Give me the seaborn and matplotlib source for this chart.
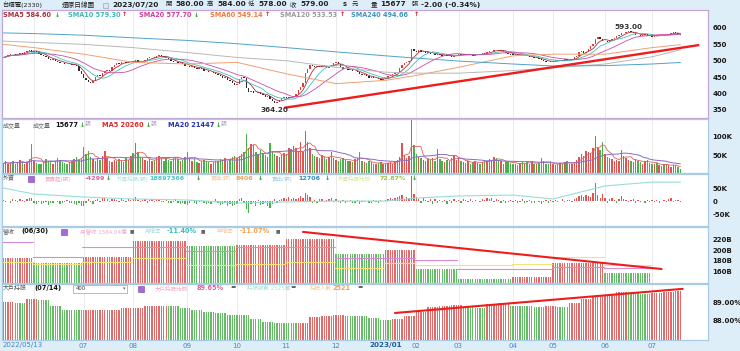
import matplotlib.pyplot as plt
from matplotlib.patches import Rectangle
import pandas as pd
import numpy as np
import seaborn as sns

sns.set_theme(style='white')
plt.rcParams['font.family'] = ['DejaVu Sans', 'Noto Sans CJK TC']

# 月份標籤 (每月交易日由下面的收盤價清單長度決定)
month_labels = ['2022/05/13', '', '07', '08', '09', '10', '11', '12',
                '2023/01', '02', '03', '04', '05', '06', '07']

# 收盤價 (還原), 每月一組
close_m = [
    [510, 513, 518, 522, 520, 516, 519, 525, 522, 527, 531, 533, 528],
    [530, 527, 522, 518, 514, 510, 506, 503, 505, 500, 497, 494, 493, 491, 489, 490, 487, 488, 484, 470, 458],
    [447, 440, 435, 432, 438, 450, 455, 452, 462, 468, 472, 470, 480, 488, 492, 490, 495, 497, 494, 498, 500],
    [498, 501, 496, 495, 500, 503, 508, 510, 512, 509, 513, 517, 515, 512, 508, 505, 498, 495, 497, 494, 496, 490, 485],
    [483, 480, 484, 479, 476, 478, 475, 470, 468, 465, 466, 462, 460, 456, 452, 448, 450, 442, 438, 432, 427],
    [430, 443, 450, 446, 418, 405, 408, 402, 400, 404, 398, 395, 390, 392, 384, 378, 370, 374, 380, 386, 388],
    [386, 390, 388, 392, 398, 410, 420, 432, 462, 475, 486, 483, 480, 485, 482, 486, 483, 479, 484, 488, 494],
    [497, 490, 482, 476, 478, 472, 474, 468, 470, 465, 460, 456, 458, 452, 448, 450, 446, 448, 443, 440, 445],
    [448, 452, 455, 460, 462, 465, 478, 487, 492, 497, 500, 535, 530],
    [528, 532, 527, 530, 524, 526, 520, 522, 518, 521, 517, 515, 519, 514, 516, 512, 515, 518],
    [520, 517, 521, 518, 522, 519, 515, 518, 522, 520, 524, 520, 526, 529, 531, 534, 532, 530, 533, 528, 525, 522, 519],
    [518, 520, 516, 519, 515, 517, 513, 510, 512, 507, 509, 505, 503, 500, 497, 495, 498],
    [500, 503, 499, 502, 500, 504, 501, 503, 506, 510, 514, 527, 530, 525, 528, 536, 545, 550, 565, 572, 566, 560],
    [561, 558, 563, 566, 570, 575, 580, 584, 586, 588, 590, 588, 585, 580, 578, 576, 579, 581, 577, 575],
    [574, 577, 576, 579, 578, 576, 580, 583, 586, 588, 584, 581, 579],
]

# 成交量 (千張)
vol_m = [
    [30, 36, 28, 32, 38, 30, 34, 40, 33, 29, 35, 42, 82],
    [38, 32, 28, 30, 35, 42, 37, 34, 30, 36, 45, 40, 33, 31, 28, 35, 38, 42, 48, 40, 45],
    [74, 55, 63, 48, 42, 38, 45, 40, 50, 63, 45, 38, 35, 40, 36, 42, 38, 33, 45, 40, 50],
    [58, 84, 60, 48, 45, 40, 38, 42, 36, 40, 46, 50, 42, 38, 45, 40, 37, 44, 48, 42, 36, 40, 46],
    [60, 45, 38, 42, 35, 32, 36, 40, 38, 34, 30, 33, 36, 38, 42, 40, 45, 38, 42, 48, 50],
    [45, 50, 55, 60, 108, 70, 82, 78, 60, 55, 65, 58, 52, 48, 84, 62, 55, 50, 48, 52, 58],
    [55, 72, 68, 75, 70, 62, 87, 60, 116, 87, 70, 55, 50, 48, 45, 52, 46, 42, 48, 60, 44],
    [40, 38, 42, 45, 40, 36, 38, 34, 42, 45, 60, 38, 35, 32, 36, 33, 30, 28, 32, 35, 30],
    [28, 32, 35, 30, 36, 40, 48, 84, 52, 45, 50, 145, 79],
    [55, 48, 45, 40, 38, 42, 40, 45, 38, 68, 42, 38, 35, 40, 38, 45, 53, 40],
    [45, 38, 35, 32, 36, 30, 34, 38, 32, 28, 35, 40, 36, 42, 38, 47, 44, 40, 36, 30, 34, 38, 32],
    [30, 28, 26, 32, 35, 30, 34, 28, 36, 30, 28, 32, 45, 38, 30, 28, 32],
    [30, 26, 28, 32, 30, 34, 36, 30, 28, 35, 40, 47, 55, 50, 62, 60, 58, 70, 103, 72, 65, 87],
    [55, 48, 45, 42, 38, 40, 36, 66, 50, 45, 40, 38, 35, 42, 38, 34, 30, 36, 40, 32],
    [30, 28, 32, 26, 24, 28, 30, 26, 22, 25, 27, 20, 15.677],
]

# 外資買賣超 (千張)
foreign_m = [
    [3, -5, 2, -8, 6, 4, -3, 8, 5, -2, 7, 10, 12],
    [-6, -10, -4, -12, -8, -3, -15, -9, -6, 2, -5, -11, -7, -4, 3, -8, -6, -13, -16, -9, -20],
    [-18, -8, 6, -4, -10, 5, 8, -3, 12, 10, 6, -2, 9, 7, 4, -5, 6, 3, -4, 8, 5],
    [6, 15, 4, -3, 5, 8, -6, 3, 7, -4, 5, 9, -2, -5, 4, -7, -9, -3, 6, -8, -10, -6, -12],
    [-14, -9, 4, -6, -11, -5, 3, -8, -10, -7, -12, -4, 6, -9, -15, -11, -6, -18, -13, -20, -16],
    [-10, 8, 12, -6, -30, -45, -12, -8, -20, 5, -15, -10, -6, -18, -25, -12, 6, -8, 4, 7, 10],
    [9, 14, 6, 11, 8, 12, 18, 10, 30, 22, 15, -6, 5, -8, 9, 6, -5, 4, 8, 12, -4],
    [6, -5, -9, 4, -7, -3, 5, -8, -6, 3, -12, -5, -4, 2, -9, -6, 3, -5, -8, 4, 2],
    [5, 8, 12, 6, 10, 15, 18, 25, 9, 14, 12, 95, 28],
    [15, 8, -6, 10, 4, -5, 9, -12, 6, -8, 3, -4, 5, -10, 4, -6, 8, -3],
    [4, -6, 8, 3, -5, 6, -3, 5, 2, -4, 7, 3, 10, 6, 12, -4, 8, 5, -6, 3, -8, -5, 4],
    [-5, 3, -7, -4, 6, -9, -3, 4, -6, -8, 2, -5, -10, -4, 3, -6, 5],
    [-3, 4, -5, 2, 6, -4, 3, 5, -2, 8, 12, 20, 25, 15, 22, 18, 14, 30, 70, 24, 12, 28],
    [10, -8, 6, 12, 5, -6, 9, 20, 8, 4, -5, 3, 6, -7, 4, -3, 2, -6, 5, -4],
    [3, -5, 4, -6, 2, 5, -3, 6, 10, -4, 3, 4, -4.299],
]

# 月初取樣的長均線與外資持股比例 (每月月初 + 最後一日)
ma60_s = [550, 540, 520, 495, 490, 495, 460, 430, 440, 455, 480, 515, 520, 520, 540, 549.14]
ma120_s = [560, 556, 550, 540, 525, 510, 500, 480, 465, 462, 462, 470, 478, 490, 512, 533.53]
ma240_s = [585, 583, 578, 570, 562, 552, 540, 527, 515, 508, 499, 490, 484, 485, 490, 494.66]
fratio_s = [72.42, 71.96, 71.73, 71.58, 71.50, 71.27, 71.35, 71.42, 71.42, 71.65, 71.81, 71.88, 71.58, 72.58, 72.88, 72.87]

# 月營收 (十億), 2022/04 ~ 2023/06
revenue = [172.6, 185.7, 175.9, 186.8, 218.1, 208.2, 210.3, 222.7, 192.6, 200.1, 163.2, 145.4, 147.9, 176.5, 156.4]
rev_pink = [216, 187, 206, 206, 199, 206, 206, 185, 185, 181, 164, 164, 168, 166]
rev_yellow = [177, 174, 177, 185, 171, 173, 177, 165, 175, 172, 172, 174, 187, 171]

# 大戶持股比例 (每週)
holder_week = [89.07, 89.00, 89.20, 89.15, 88.85, 88.60, 88.60, 88.62, 88.62, 88.62, 88.70, 88.70,
               88.85, 88.85, 88.83, 88.70, 88.60, 88.50, 88.45, 88.33, 88.33, 88.10, 87.96, 87.87,
               87.87, 87.90, 88.20, 88.30, 88.35, 88.25, 88.25, 88.15, 88.07, 88.08, 88.27, 88.50,
               88.78, 88.85, 88.87, 88.80, 88.70, 88.95, 89.00, 88.85, 88.85, 88.80, 88.82, 88.78,
               89.00, 89.20, 89.40, 89.45, 89.60, 89.58, 89.50, 89.55, 89.62, 89.65]

price_low, price_high = 364.20, 593.00
# 趨勢線 (交易日序號, 數值)
trend_price = ([119, 295], [356, 548])
trend_rev = ([127, 279], [235.5, 164])
trend_hold = ([166, 288], [88.44, 89.78])

# ---------- 整理 ----------
month_days = [len(m) for m in close_m]
month_start = np.r_[0, np.cumsum(month_days)[:-1]]
close = np.concatenate(close_m).astype(float)
vol = np.concatenate(vol_m).astype(float)
foreign = np.concatenate(foreign_m).astype(float)
n = len(close)
idx = np.arange(n)
samp_x = np.r_[month_start, n - 1]
opn = np.r_[close[0], close[:-1]]
up = close >= opn

RED, GREEN = '#e4524f', '#4cae4c'
BAR_R, BAR_G = '#e46a6a', '#66bb66'

W, H = 740, 351
fig = plt.figure(figsize=(W / 100, H / 100), dpi=100)
fig.patch.set_facecolor('#ddeef9')
XR = 298.7


def panel(y0, y1, edge='#a9cbe3'):
    ax = fig.add_axes([2 / W, 1 - y1 / H, 706 / W, (y1 - y0) / H])
    ax.set_facecolor('white')
    ax.set_xlim(-0.6, XR)
    ax.set_xticks(month_start[1:])
    ax.set_xticklabels([])
    ax.tick_params(axis='both', length=0)
    ax.grid(axis='x', color='#e8e8e8', lw=0.6)
    ax.grid(axis='y', visible=False)
    ax.set_axisbelow(True)
    ax.yaxis.tick_right()
    for s in ax.spines.values():
        s.set_color(edge)
        s.set_linewidth(0.9)
    return ax


def yt(ax, ticks, labels):
    ax.yaxis.tick_right()
    ax.set_yticks(ticks)
    ax.set_yticklabels(labels, fontsize=5.0, fontweight='bold', color='#1a1a1a')
    ax.tick_params(axis='y', pad=3, length=0)


def T(x, y, s, color='#222222', size=4.8, weight='bold', ha='left'):
    fig.text(x / W, 1 - y / H, s, color=color, fontsize=size, fontweight=weight, ha=ha, va='center')


def arrow(x, y, d):
    T(x, y, '↓' if d < 0 else '↑', color='#1d9a1d' if d < 0 else '#e02020', size=4.6)


# ---------- 股價 ----------
ax1 = panel(10, 118, edge='#c6a6d6')
ax1.set_ylim(325, 655)
yt(ax1, [350, 400, 450, 500, 550, 600], ['350', '400', '450', '500', '550', '600'])
sma = {
    'SMA5': (pd.Series(close).rolling(5, min_periods=1).mean(), '#a83236'),
    'SMA10': (pd.Series(close).rolling(10, min_periods=1).mean(), '#3fc1c1'),
    'SMA20': (pd.Series(close).rolling(20, min_periods=1).mean(), '#d04aa4'),
}
for name, (s, c) in sma.items():
    sns.lineplot(x=idx, y=s.values, ax=ax1, color=c, lw=0.6)
for s, c in [(ma60_s, '#f0a070'), (ma120_s, '#b8b8b8'), (ma240_s, '#4fa3c9')]:
    sns.lineplot(x=samp_x, y=s, ax=ax1, color=c, lw=0.7)
body_lo = np.minimum(opn, close)
body_h = np.maximum(np.abs(close - opn), 1.5)
ax1.bar(idx, body_h, bottom=body_lo, width=0.6,
        color=np.where(up, '#e23a3a', '#2b2b2b'), lw=0)
ax1.plot(trend_price[0], trend_price[1], color='#ee1c1c', lw=1.7, solid_capstyle='butt')
i_lo, i_hi = int(np.argmin(close)), int(np.argmax(close))
ax1.text(i_lo, price_low - 14, f'{price_low:.2f}', ha='center', va='center', fontsize=5.2,
         fontweight='bold', color='#333333')
ax1.text(i_hi, price_high + 11, f'{price_high:.2f}', ha='center', va='center', fontsize=5.2,
         fontweight='bold', color='#333333')

# ---------- 成交量 ----------
ax2 = panel(119, 173)
ax2.set_ylim(5.3, 147)
yt(ax2, [50, 100], ['50K', '100K'])
ax2.bar(idx, vol, width=0.6, color=np.where(up, RED, GREEN), lw=0)
sns.lineplot(x=idx, y=pd.Series(vol).rolling(5, min_periods=1).mean().values, ax=ax2,
             color='#e0605a', lw=0.6)
sns.lineplot(x=idx, y=pd.Series(vol).rolling(20, min_periods=1).mean().values, ax=ax2,
             color='#8a6cc8', lw=0.7)

# ---------- 外資 ----------
ax3 = panel(174, 226)
ax3.set_ylim(-96, 104)
ax3.bar(idx, foreign, width=0.55, color=np.where(foreign >= 0, RED, GREEN), lw=0)
ax3b = ax3.twinx()
ax3b.set_ylim(69.5, 73.5)
ax3b.set_yticks([])
for s in ax3b.spines.values():
    s.set_visible(False)
sns.lineplot(x=samp_x, y=fratio_s, ax=ax3b, color='#98ddd5', lw=0.8)
ax3b.set_xlim(-0.6, XR)
yt(ax3, [-50, 0, 50], ['-50K', '0', '50K'])
ax3.yaxis.set_label_position('right')

# ---------- 營收 ----------
ax4 = panel(227, 283)
ax4.set_ylim(137, 245)
yt(ax4, [160, 180, 200, 220], ['160B', '180B', '200B', '220B'])
for m in range(len(revenue) - 1):
    days = np.arange(month_start[m], month_start[m] + month_days[m])
    val = revenue[m + 1]
    col = BAR_R if val >= revenue[m] else BAR_G
    ax4.bar(days, np.full(len(days), val - 137), bottom=137, width=0.55, color=col, lw=0)
    ax4.plot([days[0] - 0.5, days[-1] + 0.5], [rev_pink[m]] * 2, color='#d98ad9', lw=0.8)
    ax4.plot([days[0] - 0.5, days[-1] + 0.5], [rev_yellow[m]] * 2, color='#f2e27a', lw=0.8)
ax4.plot(trend_rev[0], trend_rev[1], color='#ee1c1c', lw=1.5)

# ---------- 大戶持股 ----------
ax5 = panel(284, 340)
ax5.set_ylim(86.94, 90.05)
yt(ax5, [88, 89], ['88.00%', '89.00%'])
hcol = []
prev_c = BAR_R
for k, v in enumerate(holder_week):
    if k > 0 and v > holder_week[k - 1]:
        prev_c = BAR_R
    elif k > 0 and v < holder_week[k - 1]:
        prev_c = BAR_G
    hcol.append(prev_c)
hv = np.repeat(holder_week, 5)[:n]
hc = np.repeat(hcol, 5)[:n]
ax5.bar(idx, hv - 86.94, bottom=86.94, width=0.55, color=hc, lw=0)
ax5.plot(trend_hold[0], trend_hold[1], color='#ee1c1c', lw=1.5)

# ---------- 日期 ----------
for k, (ms, lab) in enumerate(zip(month_start, month_labels)):
    if not lab:
        continue
    xp = 3 + ms * 2.36
    if k == 0:
        T(3, 345.5, lab, color='#4a86b8', size=5.0, weight='normal')
    elif '/' in lab:
        T(xp, 345.5, lab, color='#1f5f99', size=5.2, weight='bold', ha='center')
    else:
        T(xp, 345.5, lab, color='#4a86b8', size=5.0, weight='normal', ha='center')

# ---------- 標題列 ----------
T(2, 4.5, '台積電(2330)', size=4.6, weight='normal')
T(62, 4.5, '還原日線圖', size=4.8, weight='normal')
fig.patches.append(Rectangle((103 / W, 1 - 7.5 / H), 5 / W, 5 / H, transform=fig.transFigure,
                             facecolor='#dde4ec', edgecolor='#9aaabb', lw=0.5))
T(112, 4.5, '2023/07/20', size=5.3)
T(165, 4.5, '開', size=4.6, weight='normal')
T(175, 4.5, '580.00', size=5.3)
T(207, 4.5, '高', size=4.6, weight='normal')
T(217, 4.5, '584.00', size=5.3)
T(248, 4.5, '低', size=4.6, weight='normal')
T(258, 4.5, '578.00', size=5.3)
T(290, 4.5, '收', size=4.6, weight='normal')
T(300, 4.5, '579.00', size=5.3)
T(343, 4.5, 's', size=4.8)
T(352, 4.5, '元', size=4.6, weight='normal')
T(371, 4.5, '量', size=4.6, weight='normal')
T(380, 4.5, '15677', size=5.3)
T(412, 4.5, '張', size=4.6, weight='normal')
T(421, 4.5, '-2.00 (-0.34%)', size=5.3)

# 均線列
for x0, xa, lab, c, d in [(3, 55, 'SMA5 584.60', '#a83236', -1),
                          (68, 122, 'SMA10 579.30', '#3fb8b8', 1),
                          (139, 194, 'SMA20 577.70', '#d03a9c', -1),
                          (210, 265, 'SMA60 549.14', '#ee7a3a', 1),
                          (280, 340, 'SMA120 533.53', '#9a9a9a', 1),
                          (351, 414, 'SMA240 494.66', '#3e94c0', 1)]:
    T(x0, 15, lab, color=c, size=4.7)
    arrow(xa, 15, d)

# 成交量列
T(3, 125, '成交量', color='#666666', size=4.3, weight='normal')
T(33, 125, '成交量', color='#666666', size=4.3, weight='normal')
T(55, 125, '15677', color='#111111', size=4.8)
arrow(80, 125, -1)
T(85, 125, '張', color='#b49ac8', size=4.2, weight='normal')
T(102, 125, 'MA5 20260', color='#e02828', size=4.8)
arrow(146, 125, -1)
T(151, 125, '張', color='#b49ac8', size=4.2, weight='normal')
T(168, 125, 'MA20 21447', color='#2432b8', size=4.8)
arrow(216, 125, -1)
T(221, 125, '張', color='#b49ac8', size=4.2, weight='normal')

# 外資列
T(3, 178.5, '外資', color='#555555', size=4.3, weight='normal')
fig.patches.append(Rectangle((28 / W, 1 - 182 / H), 6 / W, 6 / H, transform=fig.transFigure,
                             facecolor='#a46ad6', edgecolor='#7a40b0', lw=0.4))
T(45, 178.5, '買賣超(張)', color='#f2a6c6', size=4.0, weight='normal')
T(85, 178.5, '-4299', color='#e0609a', size=4.6)
arrow(106, 178.5, -1)
T(117, 178.5, '外資持股(張)', color='#a8e0da', size=4.0, weight='normal')
T(149, 178.5, '18897366', color='#4cc4c4', size=4.6)
arrow(196, 178.5, -1)
T(211, 178.5, '買進(張)', color='#f3c9a0', size=4.0, weight='normal')
T(236, 178.5, '8406', color='#f0a050', size=4.6)
arrow(258, 178.5, -1)
T(272, 178.5, '賣出(張)', color='#a6cde6', size=4.0, weight='normal')
T(298, 178.5, '12706', color='#2f8cc0', size=4.6)
arrow(325, 178.5, -1)
T(338, 178.5, '外資持股比例', color='#cfe39a', size=4.0, weight='normal')
T(380, 178.5, '72.87%', color='#9cc23a', size=4.6)
arrow(412, 178.5, -1)

# 營收列
T(3, 231, '營收', color='#555555', size=4.3, weight='normal')
T(21, 231, '(06/30)', color='#111111', size=4.8)
fig.patches.append(Rectangle((61 / W, 1 - 234.5 / H), 6 / W, 6 / H, transform=fig.transFigure,
                             facecolor='#a46ad6', edgecolor='#7a40b0', lw=0.4))
T(80, 231, '月營收 1564.04億', color='#f2a6c6', size=4.0, weight='normal')
T(130, 231, '■', color='#666666', size=3.4, weight='normal')
T(145, 231, '月增率', color='#a8e0da', size=4.0, weight='normal')
T(167, 231, '-11.40%', color='#3cbcbc', size=4.7)
T(201, 231, '■', color='#666666', size=3.4, weight='normal')
T(217, 231, '年增率', color='#f3c9a0', size=4.0, weight='normal')
T(240, 231, '-11.07%', color='#f0a050', size=4.7)
T(276, 231, '■', color='#666666', size=3.4, weight='normal')

# 大戶持股列
T(3, 288, '大戶持股', color='#555555', size=4.3, weight='normal')
T(34, 288, '(07/14)', color='#111111', size=4.8)
fig.patches.append(Rectangle((73 / W, 1 - 292.5 / H), 54 / W, 8 / H, transform=fig.transFigure,
                             facecolor='white', edgecolor='#a0a0a0', lw=0.5))
T(76, 288.5, '400', color='#333333', size=3.8, weight='normal')
T(123, 288.5, '▾', color='#777777', size=3.8, weight='normal')
fig.patches.append(Rectangle((138 / W, 1 - 291.5 / H), 6 / W, 6 / H, transform=fig.transFigure,
                             facecolor='#a46ad6', edgecolor='#7a40b0', lw=0.4))
T(155, 288, '大戶持股比例', color='#f2a6c6', size=4.0, weight='normal')
T(197, 288, '89.65%', color='#e0609a', size=4.7)
T(230, 288, '=', color='#333333', size=4.6)
T(247, 288, '持股張數 2525萬', color='#a8e0da', size=4.0, weight='normal')
T(290, 288, '=', color='#333333', size=4.6)
T(310, 288, '持股人數', color='#f3c9a0', size=4.0, weight='normal')
T(332, 288, '2521', color='#f0a050', size=4.7)
T(357, 288, '=', color='#333333', size=4.6)

fig.savefig('out.png', dpi=100, facecolor=fig.get_facecolor())
